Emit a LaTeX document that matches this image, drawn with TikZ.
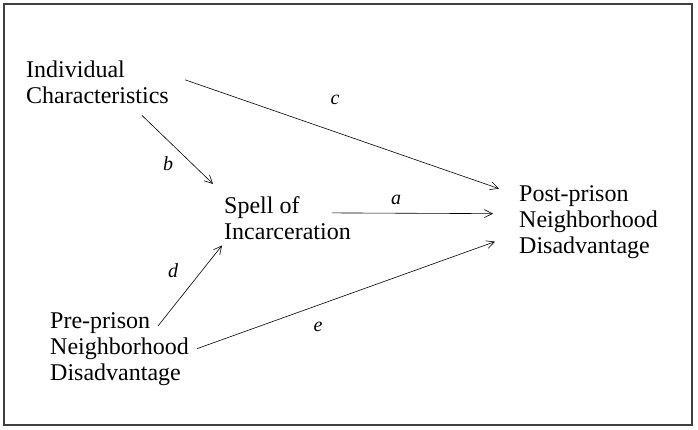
\documentclass[tikz,border=0pt]{standalone}
\usepackage{fontspec}
\setmainfont{Liberation Serif}
\usepackage{tikz}
\usetikzlibrary{positioning, arrows.meta}
\tikzstyle{factor} = [
    align=left, inner sep=0pt, anchor=base west,
    font=\fontsize{24}{26}\selectfont % base anchor sits on the last line
]
\tikzstyle{effect} = [
    line width=0.6pt, -{Straight Barb[length=8pt,width=8pt]}
]
\tikzstyle{coef} = [inner sep=0pt, font=\fontsize{20}{22}\selectfont\itshape]
\begin{document}
\begin{tikzpicture}[x=1pt, y=-1pt]
        \useasboundingbox (0,0) rectangle (698,429);
        % Frame
        \draw[line width=2pt, black!75] (4,4) rectangle (692,425);

        % Factors
        \node[factor] (indiv) at (26,103) {Individual\\Characteristics};
        \node[factor] (spell) at (224,239) {Spell of\\Incarceration};
        \node[factor] (pre) at (50,380) {Pre-prison\\Neighborhood\\Disadvantage};
        \node[factor] (post) at (519,253) {Post-prison\\Neighborhood\\Disadvantage};

        % Paths
        \draw[effect] ([xshift=16pt,yshift=2pt]indiv.east) -- ([xshift=-20pt,yshift=33pt]post.west);
        \draw[effect] ([xshift=-27pt,yshift=-12pt]indiv.south east) -- ([xshift=-11pt,yshift=12pt]spell.north west);
        \draw[effect] ([xshift=-19pt,yshift=-17pt]spell.north east) -- ([xshift=-26pt,yshift=8pt]post.west);
        \draw[effect] ([xshift=-31pt,yshift=-14pt]pre.north east) -- ([xshift=-2pt,yshift=-6pt]spell.south west);
        \draw[effect] ([xshift=8pt]pre.east) -- ([xshift=-24pt,yshift=-20pt]post.west);

        % Coefficients
        \node[coef] (lc) at (335,100) {c};
        \node[coef] (lb) at (168,164) {b};
        \node[coef] (la) at (396,200) {a};
        \node[coef] (ld) at (173,271) {d};
        \node[coef] (le) at (318,327) {e};
    \end{tikzpicture}
\end{document}
